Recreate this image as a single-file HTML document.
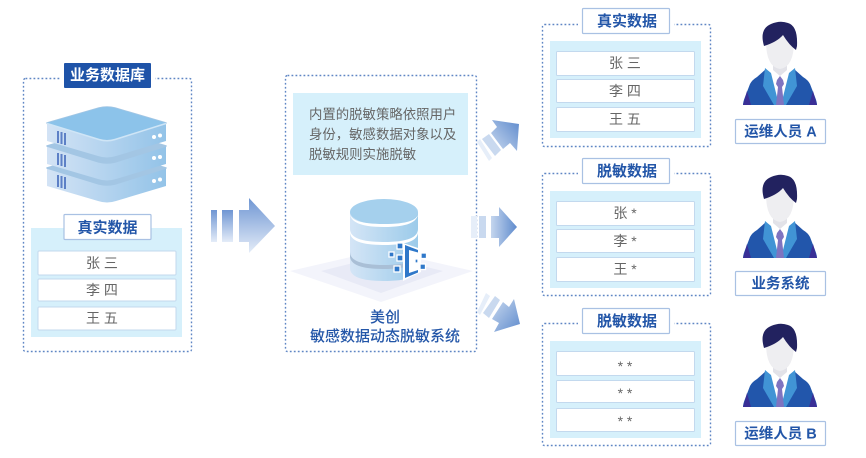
<!DOCTYPE html>
<html><head><meta charset="utf-8">
<style>
html,body{margin:0;padding:0;background:#fff;width:866px;height:458px;overflow:hidden}
svg{display:block;filter:blur(0.35px)}
text{font-family:"Liberation Sans","Noto Sans CJK SC",sans-serif}
.t{font-size:15px;font-weight:700;fill:#2356a8;text-anchor:middle}
.r{font-size:14px;fill:#666;text-anchor:middle}
.d{fill:none;stroke:#5f86c4;stroke-width:1.4;stroke-dasharray:1.8 2.2}
.p{fill:#d6f0fb}
.row{fill:#fff;stroke:#c3d9ee;stroke-width:1}
.lb{fill:#fff;stroke:#a9c1e3;stroke-width:1.2}
</style></head><body>
<svg width="866" height="458" viewBox="0 0 866 458" xmlns="http://www.w3.org/2000/svg">
<defs>
<linearGradient id="ag" x1="0" y1="0" x2="0" y2="1"><stop offset="0" stop-color="#6f96d3"/><stop offset="1" stop-color="#e4ecf8"/></linearGradient>
<linearGradient id="ah" x1="0" y1="0" x2="1" y2="0"><stop offset="0" stop-color="#c5d6ee"/><stop offset="1" stop-color="#5f8bcd"/></linearGradient>
<linearGradient id="au" x1="0" y1="1" x2="1" y2="0"><stop offset="0" stop-color="#c9d9ef"/><stop offset="1" stop-color="#5f8bcd"/></linearGradient>
<linearGradient id="ad" x1="0" y1="0" x2="1" y2="1"><stop offset="0" stop-color="#c9d9ef"/><stop offset="1" stop-color="#5f8bcd"/></linearGradient>
<linearGradient id="sv" x1="0" y1="0" x2="1" y2="0"><stop offset="0" stop-color="#d3e3f5"/><stop offset="1" stop-color="#93c3e8"/></linearGradient>
<linearGradient id="cy" x1="0" y1="0" x2="1" y2="0"><stop offset="0" stop-color="#d4e5f6"/><stop offset="1" stop-color="#9ccbea"/></linearGradient>
<g id="person">
<path d="M0 84 Q0 81 2 76 L7 63 Q9 59 14 56 L23 48 L37 84Z M74 84 Q74 81 72 76 L67 63 Q65 59 60 56 L51 48 L37 84Z" fill="#2256ab"/>
<path d="M0 84 L4 70 L8 84Z M74 84 L70 70 L66 84Z" fill="#3a2f96"/>
<path d="M27 46 L37 54 L47 46 L52 50 L41 84 H33 L22 50Z" fill="#fff"/>
<path d="M22 47 L28 52 L36 84 H31 L20 65Z M52 47 L46 52 L38 84 H43 L54 65Z" fill="#4194d5"/>
<path d="M34 59 L37 55 L40 59 L41 63 L39 66 L41 84 H33 L35 66 L33 63Z" fill="#7f74c0"/>
<path d="M30 38 H44 V49 L37 55 L30 49Z" fill="#e2e2e8"/>
<path d="M23 20 Q23 46 37 48 Q51 46 51 20 L48 10 H26Z" fill="#eeeef1"/>
<path d="M21 25 Q16 8 28 3 Q37 -1 45 2 Q55 5 54 25 L53 29 Q46 24 40 14 Q34 21 21 25Z" fill="#22225f"/>
</g>
<g id="srv">
<path d="M0 16 V34 L51 49 Q60 52 69 49 L119 34 V16 L60 33Z" fill="url(#sv)"/>
<path d="M0 16 L52 1 Q60 -1 68 1 L119 16 L68 32 Q60 34 52 32Z" fill="#a3c6e4" stroke="#a3c6e4" stroke-width="1.500" stroke-linejoin="round"/>
</g>
</defs>

<!-- Left box -->
<rect class="d" x="23.500" y="78.500" width="168" height="273" rx="2"/>
<rect x="60" y="70" width="95" height="16" fill="#fff"/>
<rect x="64" y="63" width="87" height="25" rx="1" fill="#1e53a8"/>
<text x="107.500" y="80" text-anchor="middle" font-size="15" font-weight="700" fill="#fff">业务数据库</text>
<use href="#srv" x="47" y="152"/>
<use href="#srv" x="47" y="130"/>
<use href="#srv" x="47" y="107"/>
<path d="M47 123 L99 108 Q107 106 115 108 L166 123 L115 139 Q107 141 99 139Z" fill="#8cc3ea"/>
<path d="M47 123.500 L99 139.500 Q107 142 115 139.500 L166 123.500" fill="none" stroke="#cfe5f6" stroke-width="1.500"/>
<g fill="#5d80c6"><rect x="57" y="131" width="2" height="12"/><rect x="60.500" y="132" width="2" height="12"/><rect x="64" y="133" width="2" height="12"/><rect x="57" y="153" width="2" height="12"/><rect x="60.500" y="154" width="2" height="12"/><rect x="64" y="155" width="2" height="12"/><rect x="57" y="175" width="2" height="12"/><rect x="60.500" y="176" width="2" height="12"/><rect x="64" y="177" width="2" height="12"/></g>
<g fill="#fff"><circle cx="154" cy="137" r="2"/><circle cx="160" cy="135.500" r="2"/><circle cx="154" cy="158" r="2"/><circle cx="160" cy="157" r="2"/><circle cx="154" cy="181" r="2"/><circle cx="160" cy="179.500" r="2"/></g>
<rect class="p" x="31" y="228" width="151" height="109"/>
<rect class="lb" x="64" y="214.500" width="87" height="25" rx="1"/>
<text class="t" x="107.500" y="232.500">真实数据</text>
<rect class="row" x="38" y="251" width="138" height="24" rx="1"/><rect class="row" x="38" y="279" width="138" height="22" rx="1"/><rect class="row" x="38" y="307" width="138" height="23" rx="1"/>
<text class="r" x="102" y="268">张 三</text><text class="r" x="102" y="295">李 四</text><text class="r" x="102" y="323">王 五</text>

<!-- Big arrow -->
<rect x="211" y="210" width="6" height="32" fill="url(#ag)"/><rect x="222" y="210" width="11" height="32" fill="url(#ag)"/>
<path d="M239 210 H249 V198 L275 226 L249 253 V242 H239Z" fill="url(#ag)"/>

<!-- Center -->
<rect class="d" x="285.500" y="75.500" width="191" height="276" rx="2"/>
<rect class="p" x="293" y="93" width="175" height="82"/>
<g font-size="13.400" fill="#666"><text x="309" y="119">内置的脱敏策略依照用户</text><text x="309" y="139">身份，敏感数据对象以及</text><text x="309" y="159">脱敏规则实施脱敏</text></g>
<path d="M290 271 L381 250 L473 271 L381 302Z" fill="#f3f4fb"/>
<path d="M321 271 L381 256 L443 271 L381 293Z" fill="#e8eaf6"/>
<path d="M350 212 V268 Q350 281 384 281 Q418 281 418 268 V212Z" fill="url(#cy)"/>
<path d="M350 232 Q350 245 384 245 Q418 245 418 232 V229 Q418 242 384 242 Q350 242 350 229Z" fill="#fff"/>
<path d="M350 256 Q350 269 384 269 Q418 269 418 256 V252 Q418 265 384 265 Q350 265 350 252Z" fill="#a9bfd6"/>
<ellipse cx="384" cy="212" rx="34" ry="13" fill="#a5d0ed"/>
<path d="M350 213 Q350 227 384 227 Q418 227 418 213 Q418 224 384 224 Q350 224 350 213Z" fill="#fff"/>
<path d="M403 243 L421 249 V272 L403 281Z" fill="#fff"/>
<path d="M405 245 L418 250 V252.500 L409 250 V273 L418 270 V272.500 L405 278Z" fill="#2f78c9"/>
<g fill="#2f78c9" stroke="#fff" stroke-width="1.300"><rect x="397" y="243" width="6" height="6"/><rect x="389" y="252" width="5" height="5"/><rect x="397" y="255" width="6" height="6"/><rect x="394" y="266" width="6" height="6"/><rect x="421" y="253" width="5.500" height="5.500"/><rect x="420" y="264" width="5.500" height="5.500"/><rect x="415" y="259" width="3" height="4"/></g>
<text x="385" y="322" text-anchor="middle" font-size="15" font-weight="500" fill="#2356a8">美创</text>
<text x="385" y="341" text-anchor="middle" font-size="15" font-weight="500" fill="#2356a8">敏感数据动态脱敏系统</text>

<!-- small arrows -->
<rect x="471" y="216" width="6" height="22" fill="#e6eef9"/>
<rect x="479" y="216" width="7" height="22" fill="#c9d9ef"/>
<path d="M491 216 H499 V207 L517 227 L499 247 V238 H491Z" fill="url(#ah)"/>
<path d="M477 142 L480 139 L492 158 L489 161Z" fill="#e6eef9"/>
<path d="M482 139 L489 134 L501 150 L495 156Z" fill="#c9d9ef"/>
<path d="M492 120 L519 124 L517 151 L510 143 L503 149 L491 133 L497 127Z" fill="url(#au)"/>
<path d="M486 293 L490 296 L480 315 L477 312Z" fill="#e6eef9"/>
<path d="M495 296 L500 300 L489 318 L483 313Z" fill="#c9d9ef"/>
<path d="M514 299 L520 324 L494 332 L499 323 L492 319 L503 302 L509 307Z" fill="url(#ad)"/>

<!-- Right box 1 -->
<rect class="d" x="542.500" y="24.500" width="168" height="122" rx="2"/>
<rect x="578" y="15" width="96" height="20" fill="#fff"/>
<rect class="p" x="550" y="41" width="151" height="97"/>
<rect class="lb" x="582.500" y="8.500" width="87" height="25" rx="1"/>
<text class="t" x="627" y="26">真实数据</text>
<rect class="row" x="556.500" y="51.500" width="138" height="24" rx="1"/><rect class="row" x="556.500" y="79.500" width="138" height="23" rx="1"/><rect class="row" x="556.500" y="107.500" width="138" height="24" rx="1"/>
<text class="r" x="625" y="68">张 三</text><text class="r" x="625" y="96">李 四</text><text class="r" x="625" y="124">王 五</text>

<!-- Right box 2 -->
<rect class="d" x="542.500" y="173.500" width="168" height="122" rx="2"/>
<rect x="578" y="165" width="96" height="20" fill="#fff"/>
<rect class="p" x="550" y="191" width="151" height="97"/>
<rect class="lb" x="582.500" y="158.500" width="87" height="25" rx="1"/>
<text class="t" x="627" y="176">脱敏数据</text>
<rect class="row" x="556.500" y="201.500" width="138" height="24" rx="1"/><rect class="row" x="556.500" y="229.500" width="138" height="23" rx="1"/><rect class="row" x="556.500" y="257.500" width="138" height="24" rx="1"/>
<text class="r" x="625" y="218">张 *</text><text class="r" x="625" y="246">李 *</text><text class="r" x="625" y="274">王 *</text>

<!-- Right box 3 -->
<rect class="d" x="542.500" y="323.500" width="168" height="122" rx="2"/>
<rect x="578" y="315" width="96" height="20" fill="#fff"/>
<rect class="p" x="550" y="341" width="151" height="97"/>
<rect class="lb" x="582.500" y="308.500" width="87" height="25" rx="1"/>
<text class="t" x="627" y="326">脱敏数据</text>
<rect class="row" x="556.500" y="351.500" width="138" height="24" rx="1"/><rect class="row" x="556.500" y="380.500" width="138" height="22" rx="1"/><rect class="row" x="556.500" y="408.500" width="138" height="23" rx="1"/>
<text class="r" x="625" y="371">* *</text><text class="r" x="625" y="398">* *</text><text class="r" x="625" y="426">* *</text>

<!-- People -->
<use href="#person" x="743" y="21"/>
<use href="#person" x="743" y="174"/>
<use href="#person" x="743" y="323"/>
<rect class="lb" x="735.500" y="119.500" width="90" height="24" rx="1"/>
<text class="t" x="780.500" y="136.500" style="font-size:14.5px">运维人员 A</text>
<rect class="lb" x="735.500" y="271.500" width="90" height="24" rx="1"/>
<text class="t" x="780.500" y="288.500" style="font-size:14.5px">业务系统</text>
<rect class="lb" x="735.500" y="421.500" width="90" height="24" rx="1"/>
<text class="t" x="780.500" y="438.500" style="font-size:14.5px">运维人员 B</text>
</svg>
</body></html>
